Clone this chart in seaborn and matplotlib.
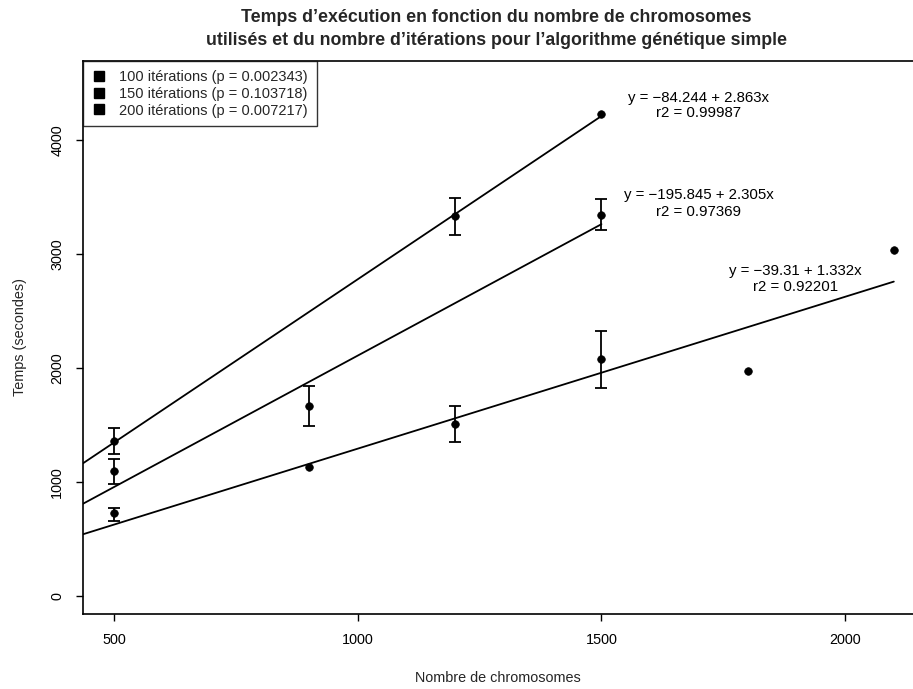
import numpy as np
import pandas as pd
import matplotlib
matplotlib.use("Agg")
import matplotlib.pyplot as plt
from matplotlib.lines import Line2D
import seaborn as sns

sns.set_theme(style="white")
plt.rcParams["font.family"] = ["Liberation Sans", "DejaVu Sans"]

# Temps moyens (s) et bornes des barres d'erreur, par nombre de chromosomes
chrom_100 = [500, 900, 1200, 1500, 1800, 2100]
temps_100 = [725, 1134, 1511, 2076, 1974, 3035]
bas_100 = [658, np.nan, 1348, 1822, np.nan, np.nan]
haut_100 = [775, np.nan, 1669, 2322, np.nan, np.nan]

chrom_150 = [500, 900, 1500]
temps_150 = [1096, 1669, 3342]
bas_150 = [980, 1489, 3213]
haut_150 = [1202, 1845, 3482]

chrom_200 = [500, 1200, 1500]
temps_200 = [1360, 3330, 4225]
bas_200 = [1245, 3170, np.nan]
haut_200 = [1477, 3490, np.nan]

# Régressions linéaires : ordonnée à l'origine, pente, r2
iterations = [100, 150, 200]
p_values = ["0.002343", "0.103718", "0.007217"]
ordonnees = [-39.31, -195.845, -84.244]
pentes = [1.332, 2.305, 2.863]
r2 = [0.92201, 0.97369, 0.99987]

x_ticks = [500, 1000, 1500, 2000]
y_ticks = [0, 1000, 2000, 3000, 4000]

series = [
    (chrom_100, temps_100, bas_100, haut_100),
    (chrom_150, temps_150, bas_150, haut_150),
    (chrom_200, temps_200, bas_200, haut_200),
]

frames = []
for it, (c, t, lo, hi) in zip(iterations, series):
    frames.append(pd.DataFrame({"chromosomes": c, "temps": t, "bas": lo,
                                "haut": hi, "iterations": it}))
df = pd.concat(frames, ignore_index=True)

W, H = 913, 689
fig = plt.figure(figsize=(W / 100, H / 100), dpi=100)
ax = fig.add_axes([83 / W, (H - 614) / H, (925 - 83) / W, (614 - 61) / H])
ax.set_xlim(436, 2164)
ax.set_ylim(-158, 4693)

# Droites de régression, tracées jusqu'au plus grand nombre de chromosomes
x0 = ax.get_xlim()[0]
for it, a, b in zip(iterations, ordonnees, pentes):
    xmax = df.loc[df.iterations == it, "chromosomes"].max()
    xs = np.linspace(x0, xmax, 50)
    sns.lineplot(x=xs, y=a + b * xs, color="black", linewidth=1.3, ax=ax)

# Barres d'erreur
eb = df.dropna(subset=["bas", "haut"])
ax.errorbar(eb["chromosomes"], eb["temps"],
            yerr=[eb["temps"] - eb["bas"], eb["haut"] - eb["temps"]],
            fmt="none", ecolor="black", elinewidth=1.3, capsize=4.5,
            capthick=1.3, zorder=3)

# Points moyens
sns.scatterplot(data=df, x="chromosomes", y="temps", color="black", s=30,
                edgecolor="black", linewidth=0.5, legend=False, ax=ax, zorder=4)

# Équations des régressions
pos_eq = [(1898, 2853, 2710), (1699, 3518, 3368), (1699, 4368, 4237)]
for (xe, ye, yr), a, b, r in zip(pos_eq, ordonnees, pentes, r2):
    eq = f"y = {a} + {b}x".replace("-", "\u2212")
    ax.text(xe, ye, eq, ha="center", va="center", fontsize=10.8, color="black")
    ax.text(xe, yr, f"r2 = {r}", ha="center", va="center", fontsize=10.8,
            color="black")

ax.set_xticks(x_ticks)
ax.set_yticks(y_ticks)
ax.set_xlabel("")
ax.set_ylabel("")
ax.tick_params(axis="both", direction="out", length=5, width=1,
               color="black", labelsize=10.4, labelcolor="black",
               bottom=True, left=True)
ax.tick_params(axis="x", pad=9)
ax.tick_params(axis="y", pad=8.5, labelrotation=90)
for lab in ax.get_yticklabels():
    lab.set_va("center")
for s in ax.spines.values():
    s.set_color("black")
    s.set_linewidth(1.2)
ax.spines["right"].set_visible(False)
ax.grid(False)

handles = [Line2D([], [], marker="s", linestyle="none", color="black",
                  markersize=7.5) for _ in iterations]
labels = [f"{it} itérations (p = {p})" for it, p in zip(iterations, p_values)]
leg = ax.legend(handles, labels, loc="upper left", borderaxespad=0,
                frameon=True, fancybox=False, fontsize=10.5,
                handlelength=1.0, handletextpad=0.9, labelspacing=0.2,
                borderpad=0.6)
leg.get_frame().set_edgecolor("black")
leg.get_frame().set_linewidth(1.0)

fig.text(496 / W, 1 - 29 / H,
         "Temps d\u2019exécution en fonction du nombre de chromosomes\n"
         "utilisés et du nombre d\u2019itérations pour l\u2019algorithme génétique simple",
         ha="center", va="center", fontsize=12.8, fontweight="bold",
         linespacing=1.4)
fig.text(498 / W, 1 - 678 / H, "Nombre de chromosomes", ha="center",
         va="center", fontsize=10.4)
fig.text(20 / W, 1 - 337.5 / H, "Temps (secondes)", ha="center", va="center",
         rotation=90, fontsize=10.4)

fig.savefig("out.png", dpi=100, facecolor="white")
